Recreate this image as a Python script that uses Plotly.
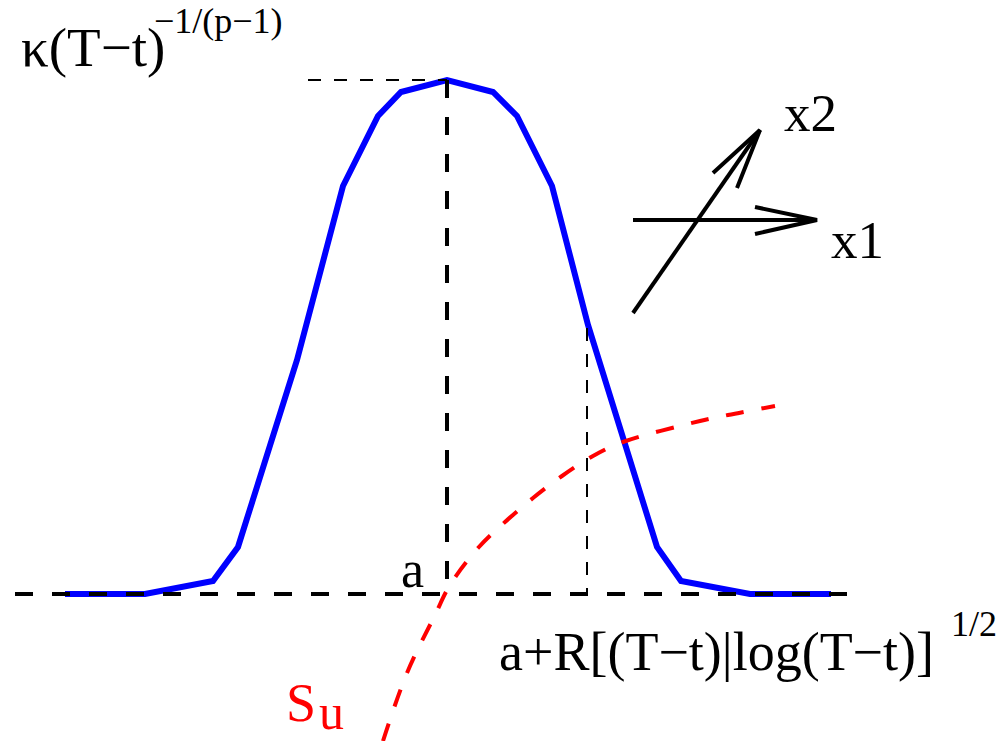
import plotly.graph_objects as go

# Blue profile curve (pixel-space schematic coordinates)
blue_x = [65, 145, 213, 238, 297, 343, 378, 401, 447, 493, 517, 552, 588, 657, 681, 750, 831]
blue_y = [594, 594, 581, 547, 360, 186, 116, 92, 80, 92, 116, 186, 325, 547, 581, 594, 594]

# Red dashed curve S_u
red_x = [383, 407, 435, 450, 478, 505, 533, 562, 593, 623, 700, 728, 775]
red_y = [741, 673, 615, 585, 548, 522, 498, 476, 456, 442, 421, 415, 406]

# Guide lines
base_x = [15, 855]
base_y = [594, 594]
peak_vx = [447, 447]
peak_vy = [80, 594]
peak_hx = [308, 447]
peak_hy = [80, 80]
rad_vx = [587, 587]
rad_vy = [328, 594]

# Axes arrows
x1_x = [633, 817]
x1_y = [220, 220]
x1_head_x = [755, 817, 755]
x1_head_y = [207, 220, 234]
x2_x = [633, 760]
x2_y = [313, 130]
x2_head_x = [713, 760, 737]
x2_head_y = [173, 130, 188]

fig = go.Figure()

def line(xs, ys, color, width, dash=None, shape="linear"):
    fig.add_trace(go.Scatter(x=xs, y=ys, mode="lines",
                             line=dict(color=color, width=width, dash=dash, shape=shape),
                             hoverinfo="skip", showlegend=False))

line(blue_x, blue_y, "#0000ff", 6)
line(base_x, base_y, "black", 4, "18px,19px")
line(peak_vx, peak_vy, "black", 4, "18px,19px")
line(peak_hx, peak_hy, "black", 2, "13px,13px")
line(rad_vx, rad_vy, "black", 2, "13px,13px")
line(red_x, red_y, "#ff0000", 4, "18px,18px", "spline")
line(x1_x, x1_y, "black", 4)
line(x1_head_x, x1_head_y, "black", 4)
line(x2_x, x2_y, "black", 4)
line(x2_head_x, x2_head_y, "black", 4)

FONT = "Liberation Serif"

def text(t, x, y, size, color="black", yanchor="middle"):
    fig.add_annotation(text=t, x=x, y=y, xref="x", yref="y", showarrow=False,
                       xanchor="left", yanchor=yanchor, borderpad=0,
                       font=dict(family=FONT, size=size, color=color))

text("κ(T−t)", 20, 47, 55)
text("−1/(p−1)", 153, 0, 36, yanchor="top")
text("x2", 783, 113, 53)
text("x1", 830, 240, 53)
text("a+R[(T−t)|log(T−t)]", 498, 652, 54)
text("1/2", 950, 624, 36)
text("a", 400, 569, 52)
text("S", 285, 703, 54, "#ff0000")
text("u", 318, 741, 50, "#ff0000", yanchor="bottom")

fig.update_layout(
    width=999, height=741,
    margin=dict(l=0, r=0, t=0, b=0),
    paper_bgcolor="white", plot_bgcolor="white",
    xaxis=dict(range=[0, 999], visible=False, fixedrange=True),
    yaxis=dict(range=[741, 0], visible=False, fixedrange=True),
    showlegend=False,
)

fig.write_html("out.html", config={"displayModeBar": False},
               post_script="document.body.style.margin='0';")
